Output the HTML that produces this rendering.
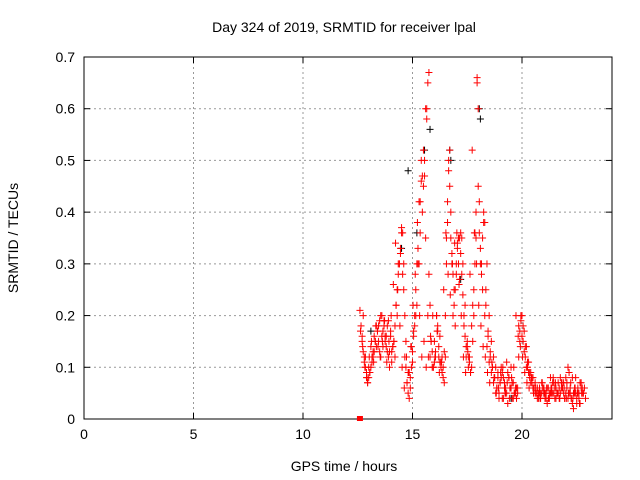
<!DOCTYPE html>
<html><head><meta charset="utf-8"><style>
body{margin:0;background:#fff;}
svg{display:block;font-family:"Liberation Sans",sans-serif;}
</style></head><body>
<svg id="chart" width="640" height="480" viewBox="0 0 640 480">
<rect width="640" height="480" fill="#fff"/>
<text x="344" y="32" text-anchor="middle" font-size="14">Day 324 of 2019, SRMTID for receiver lpal</text>
<text x="344" y="471" text-anchor="middle" font-size="14">GPS time / hours</text>
<text transform="translate(18,238) rotate(-90)" text-anchor="middle" font-size="14">SRMTID / TECUs</text>
<g id="grid"></g>
<g id="axes"></g>
<g id="marks"></g>
</svg>
<script>
const xTicks=[0,5,10,15,20];
const yTicks=[0,0.1,0.2,0.3,0.4,0.5,0.6,0.7];
const yTickLabels=["0","0.1","0.2","0.3","0.4","0.5","0.6","0.7"];
const traceStarts=[12.6,12.65,12.7,12.75,12.625];
const traceStep=0.1;
const traceA=[0.21,0.15,0.12,0.09,0.08,0.10,0.13,0.15,0.17,0.19,0.2,0.18,0.16,0.19,0.17,0.14,0.12,0.2,0.3,0.37,0.25,0.1,0.05,0.08,0.13,0.2,0.3,0.42,0.5,0.45,0.35,0.2,0.12,0.1,0.15,0.2,0.12,0.1,0.08,0.2,0.38,0.45,0.32,0.25,0.3,0.35,0.36,0.3,0.22,0.15,0.12,0.1,0.2,0.35,0.45,0.3,0.25,0.38,0.3,0.2,0.15,0.12,0.1,0.08,0.07,0.09,0.06,0.05,0.08,0.1,0.07,0.05,0.06,0.15,0.2,0.17,0.14,0.11,0.09,0.08,0.07,0.06,0.05,0.05,0.06,0.05,0.04,0.05,0.07,0.06,0.05,0.04,0.06,0.07,0.05,0.04,0.06,0.08,0.05,0.03,0.04,0.06,0.05,0.04];
const traceB=[0.18,0.13,0.1,0.07,0.09,0.12,0.16,0.14,0.18,0.2,
0.17,0.15,0.18,0.13,0.11,0.15,0.22,0.28,0.33,0.36,
0.2,0.07,0.04,0.1,0.16,0.25,0.33,0.42,0.47,0.5,
0.6,0.28,0.15,0.1,0.12,0.18,0.16,0.09,0.07,0.3,
0.5,0.35,0.28,0.25,0.33,0.35,0.28,0.18,0.12,0.1,
0.09,0.15,0.3,0.65,0.36,0.28,0.4,0.25,0.17,0.13,
0.1,0.08,0.06,0.05,0.08,0.04,0.06,0.09,0.06,0.04,
0.05,0.06,0.18,0.19,0.15,0.12,0.1,0.08,0.07,0.06,
0.05,0.04,0.05,0.06,0.04,0.03,0.05,0.06,0.05,0.04,
0.07,0.05,0.06,0.04,0.07,0.09,0.04,0.02,0.05,0.05,0.07,0.06];
const traceC=[0.16,0.11,0.08,0.1,0.14,0.12,0.15,0.17,0.13,0.16,
0.19,0.14,0.12,0.16,0.14,0.18,0.25,0.3,0.36,0.3,
0.15,0.09,0.06,0.11,0.18,0.22,0.3,0.46,0.52,0.6,
0.65,0.22,0.13,0.11,0.2,0.14,0.11,0.1,0.12,0.42,
0.52,0.3,0.22,0.28,0.3,0.32,0.24,0.16,0.14,0.11,
0.18,0.25,0.4,0.6,0.33,0.35,0.2,0.14,0.11,0.09,
0.07,0.05,0.09,0.07,0.04,0.07,0.11,0.08,0.06,0.04,
0.06,0.05,0.17,0.16,0.13,0.1,0.09,0.07,0.06,0.05,
0.04,0.06,0.07,0.05,0.04,0.06,0.08,0.05,0.04,0.05,
0.06,0.07,0.05,0.08,0.1,0.05,0.03,0.06,0.04,0.05,0.07,0.05];
const traceD=[0.2,0.12,0.07,0.09,0.11,0.13,0.18,0.15,0.12,0.14,
0.16,0.13,0.1,0.13,0.15,0.22,0.3,0.32,0.28,0.12,
0.07,0.09,0.14,0.17,0.2,0.3,0.36,0.4,0.47,0.58,
0.67,0.15,0.1,0.13,0.17,0.11,0.12,0.13,0.35,0.48,
0.4,0.2,0.18,0.34,0.27,0.35,0.2,0.14,0.12,0.09,
0.22,0.36,0.66,0.42,0.3,0.38,0.22,0.16,0.12,0.1,
0.08,0.06,0.04,0.1,0.08,0.05,0.03,0.06,0.07,0.05,
0.04,0.12,0.2,0.18,0.14,0.11,0.09,0.08,0.06,0.05,
0.05,0.04,0.06,0.05,0.06,0.04,0.05,0.07,0.06,0.05,
0.08,0.06,0.04,0.06,0.05,0.04,0.05,0.08,0.06,0.03,0.05,0.06];
const traceE=[0.17,0.14,0.1,0.08,0.12,0.15,0.11,0.18,0.14,0.12,
0.15,0.19,0.11,0.15,0.2,0.26,0.34,0.25,0.18,0.1,
0.06,0.12,0.09,0.14,0.22,0.28,0.38,0.2,0.12,0.15,
0.1,0.12,0.16,0.2,0.12,0.17,0.09,0.11,0.25,0.36,
0.28,0.24,0.3,0.34,0.36,0.26,0.2,0.12,0.09,0.13,
0.28,0.52,0.36,0.3,0.22,0.18,0.14,0.12,0.09,0.07,
0.11,0.08,0.05,0.06,0.09,0.1,0.05,0.07,0.04,0.08,
0.1,0.2,0.16,0.14,0.12,0.09,0.07,0.06,0.08,0.05,
0.06,0.05,0.04,0.07,0.05,0.06,0.04,0.06,0.08,0.07,
0.05,0.04,0.07,0.06,0.04,0.05,0.07,0.04,0.06,0.05,0.03,0.05];
const blackTimes=[14.8,15.55,15.8,16.7,16.75,18.05,18.1,14.5,17.2,19.5,21.0,13.1,15.2];
const blackValues=[0.48,0.52,0.56,0.52,0.5,0.6,0.58,0.33,0.27,0.04,0.05,0.17,0.36];
const squareTime=12.6, squareValue=0;

const NS="http://www.w3.org/2000/svg";
const L=84,R=612,T=57,B=419,yMax=0.7,pxPerHour=21.9;
const xs=v=>L+pxPerHour*v;
const ys=v=>B-(B-T)*v/yMax;
const grid=document.getElementById('grid'),axes=document.getElementById('axes'),marks=document.getElementById('marks');
function mk(tag,attrs,parent){const e=document.createElementNS(NS,tag);for(const k in attrs)e.setAttribute(k,attrs[k]);parent.appendChild(e);return e;}
xTicks.forEach(t=>{
  const x=xs(t);
  if(t>0){const g=mk('line',{x1:x,x2:x,y1:T,y2:B,stroke:'#999','stroke-dasharray':'2,3'},grid);
  
  }
  mk('line',{x1:x,x2:x,y1:B,y2:B-6,stroke:'#000'},axes);
  mk('line',{x1:x,x2:x,y1:T,y2:T+6,stroke:'#000'},axes);
  const tx=mk('text',{x:x,y:B+20,'text-anchor':'middle','font-size':14},axes);
  tx.textContent=t;
  
  
});
yTicks.forEach((v,i)=>{
  const y=ys(v);
  if(v>0&&v<yMax){const g=mk('line',{x1:L,x2:R,y1:y,y2:y,stroke:'#999','stroke-dasharray':'2,3'},grid);
  
  }
  mk('line',{x1:L,x2:L+6,y1:y,y2:y,stroke:'#000'},axes);
  mk('line',{x1:R,x2:R-6,y1:y,y2:y,stroke:'#000'},axes);
  const tx=mk('text',{x:L-9,y:y+5,'text-anchor':'end','font-size':14},axes);
  tx.textContent=yTickLabels[i];
  
  
});
const frame=mk('rect',{x:L,y:T,width:R-L,height:B-T,fill:'none',stroke:'#000'},axes);


function plus(t,v,color){
  const x=xs(t),y=ys(v);
  const p=mk('path',{d:`M${x-3.5},${y}H${x+3.5}M${x},${y-3.5}V${y+3.5}`,stroke:color,'stroke-width':1,fill:'none'},marks);
  
  
}
blackTimes.forEach((t,i)=>plus(t,blackValues[i],'#000'));
[traceA,traceB,traceC,traceD,traceE].forEach((tr,k)=>{
  tr.forEach((v,i)=>plus(traceStarts[k]+i*traceStep,v,'#f00'));
});
const sq=mk('rect',{x:xs(squareTime)-3,y:ys(squareValue)-3,width:6,height:5,fill:'#f00'},marks);


</script>
</body></html>
